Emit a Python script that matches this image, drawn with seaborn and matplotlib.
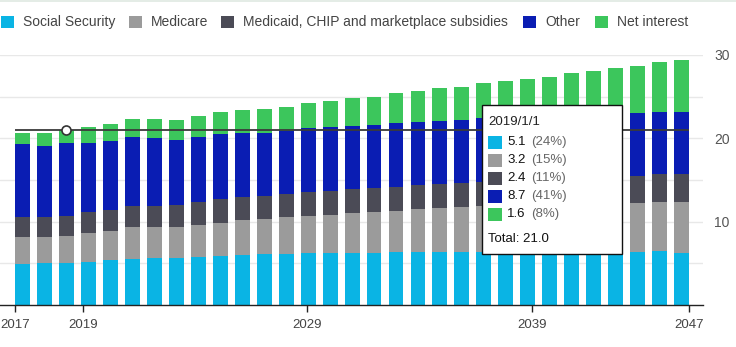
import numpy as np
import pandas as pd
import matplotlib
matplotlib.use("Agg")
import matplotlib.pyplot as plt
import seaborn as sns
from matplotlib.patches import Rectangle

# ---------------- data ----------------
years = list(range(2017, 2048))
social_security = [4.96, 5.08, 5.1, 5.2, 5.44, 5.56, 5.68, 5.68, 5.8, 5.92, 6.04, 6.16, 6.16, 6.28, 6.28, 6.28,
                   6.28, 6.36, 6.36, 6.36, 6.36, 6.36, 6.36, 6.36, 6.36, 6.36, 6.36, 6.36, 6.36, 6.44, 6.28]
medicare = [3.16, 3.04, 3.2, 3.4, 3.4, 3.76, 3.64, 3.64, 3.84, 3.96, 4.16, 4.2, 4.36, 4.44, 4.56, 4.8,
            4.84, 4.88, 5.12, 5.24, 5.4, 5.56, 5.64, 5.69, 5.74, 5.79, 5.84, 5.89, 5.92, 5.96, 6.12]
medicaid_chip = [2.44, 2.44, 2.4, 2.52, 2.52, 2.56, 2.56, 2.68, 2.68, 2.8, 2.76, 2.72, 2.76, 2.8, 2.8, 2.8,
                 2.92, 2.88, 2.88, 2.92, 2.92, 2.88, 2.9, 2.95, 3.0, 3.05, 3.1, 3.15, 3.2, 3.28, 3.28]
other = [8.8, 8.56, 8.7, 8.36, 8.36, 8.28, 8.16, 7.84, 7.84, 7.84, 7.72, 7.6, 7.64, 7.72, 7.72, 7.6,
         7.6, 7.76, 7.64, 7.6, 7.52, 7.68, 7.7, 7.7, 7.7, 7.7, 7.7, 7.65, 7.6, 7.52, 7.52]
net_interest = [1.32, 1.56, 1.6, 1.88, 2.0, 2.16, 2.28, 2.36, 2.52, 2.64, 2.72, 2.84, 2.84, 3.0, 3.12, 3.36,
                3.32, 3.6, 3.72, 3.96, 4.0, 4.16, 4.32, 4.42, 4.56, 4.98, 5.08, 5.39, 5.6, 5.96, 6.2]

series_names = ["Social Security", "Medicare", "Medicaid, CHIP and marketplace subsidies",
                "Other", "Net interest"]
x_tick_labels = ["2017", "2019", "2029", "2039", "2047"]
y_tick_values = [10, 20, 30]
highlight_year = 2019

colors = ["#0ab4e4", "#9b9b9b", "#4b4b56", "#0a1db3", "#3cc65c"]

# ---------------- figure ----------------
sns.set_theme(style="white")
plt.rcParams['font.family'] = ['Liberation Sans', 'DejaVu Sans']

W, H = 736, 347
fig = plt.figure(figsize=(W / 100, H / 100), dpi=100)
ax = fig.add_axes([0, 1 - 305 / H, 703 / W, (305 - 55) / H])

series = [social_security, medicare, medicaid_chip, other, net_interest]
cum = np.cumsum(np.array(series), axis=0)
year_labels = [str(y) for y in years]

for i in reversed(range(len(series))):
    d = pd.DataFrame({"year": year_labels, "value": cum[i]})
    sns.barplot(data=d, x="year", y="value", color=colors[i], saturation=1,
                width=0.68, errorbar=None, linewidth=0, ax=ax, zorder=2)

ax.set_xlim(-1.02, 30.97)
ax.set_ylim(0, 30)
ax.set_xlabel("")
ax.set_ylabel("")

ax.set_xticks([-0.34, 2.74, 12.95, 23.19, 30.34])
ax.set_xticklabels(x_tick_labels)
ax.set_yticks(y_tick_values)
ax.set_yticklabels([str(v) for v in y_tick_values])
ax.set_yticks([5, 15, 25], minor=True)
ax.set_axisbelow(True)
ax.grid(axis='y', which='both', color='#e8e8e8', lw=1)
ax.grid(axis='x', visible=False)

ax.yaxis.tick_right()
ax.tick_params(axis='y', which='both', length=0, pad=8, labelsize=10, labelcolor='#555555',
               left=False, right=False)
ax.tick_params(axis='x', bottom=True, length=5, width=1, color='#222222', pad=5,
               labelsize=9.5, labelcolor='#444444', direction='out')

for s in ['top', 'left', 'right']:
    ax.spines[s].set_visible(False)
ax.spines['bottom'].set_color('#222222')
ax.spines['bottom'].set_linewidth(1)

# highlight line and marker
hi = years.index(highlight_year)
total = cum[-1][hi]
ax.hlines(total, -0.34, len(years) - 1 + 0.34, colors='#3a3a3a', lw=1.3, zorder=4)
ax.plot([hi], [total], 'o', ms=6.5, mfc='white', mec='#333333', mew=1.2, zorder=5)

# ---------------- tooltip ----------------
def fx(px):
    return px / W

def fy(py):
    return 1 - py / H

box = Rectangle((fx(482), fy(254)), fx(622) - fx(482), fy(105) - fy(254),
                transform=fig.transFigure, facecolor='white', edgecolor='#111111',
                lw=1, zorder=6)
fig.add_artist(box)
fig.text(fx(488), fy(122), f"{highlight_year}/1/1", fontsize=9.5, color='#222222',
         va='center', ha='left', zorder=7)
row_y = [142, 160, 178, 196, 214]
for k in range(len(series)):
    v = series[k][hi]
    pct = round(100 * v / total)
    sw = Rectangle((fx(488), fy(row_y[k] + 6.5)), fx(14), 13 / H,
                   transform=fig.transFigure, facecolor=colors[k], edgecolor='none', zorder=7)
    fig.add_artist(sw)
    fig.text(fx(507), fy(row_y[k]), f"{v:.1f}", fontsize=9.5, color='#111111',
             va='center', ha='left', zorder=7)
    fig.text(fx(531), fy(row_y[k]), f"({pct}%)", fontsize=9.5, color='#666666',
             va='center', ha='left', zorder=7)
fig.text(fx(488), fy(239), f"Total: {total:.1f}", fontsize=9.5, color='#111111',
         va='center', ha='left', zorder=7)

# ---------------- legend ----------------
swatch_x = [1, 129, 221, 523, 595]
text_x = [23, 151, 243, 545, 617]
for k, name in enumerate(series_names):
    sw = Rectangle((fx(swatch_x[k]), fy(28)), fx(13), 12.5 / H,
                   transform=fig.transFigure, facecolor=colors[k], edgecolor='none')
    fig.add_artist(sw)
    fig.text(fx(text_x[k]), fy(22), name, fontsize=10, color='#444444',
             va='center', ha='left')

# top border line
fig.add_artist(plt.Line2D([0, 1], [fy(0.5), fy(0.5)], transform=fig.transFigure,
                          color='#dfe9e2', lw=1.2))

fig.savefig("out.png", dpi=100)
